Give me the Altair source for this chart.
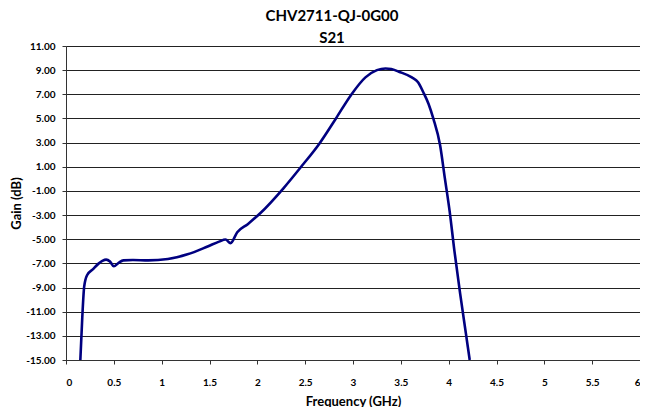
import altair as alt
import pandas as pd

freq = [0.15, 0.17, 0.19, 0.22, 0.28, 0.34, 0.38, 0.42, 0.46, 0.50, 0.55, 0.60,
        0.70, 0.86, 1.065, 1.27, 1.48, 1.60, 1.667, 1.72, 1.79, 1.90, 2.03,
        2.275, 2.46, 2.65, 2.82, 2.98, 3.13, 3.25, 3.34, 3.40, 3.48, 3.615,
        3.68, 3.735, 3.79, 3.84, 3.91, 3.96, 4.01, 4.06, 4.12, 4.18, 4.22]
gain = [-15.0, -11.5, -8.93, -7.98, -7.5, -7.02, -6.8, -6.69, -6.85, -7.24, -6.95, -6.75,
        -6.72, -6.75, -6.64, -6.25, -5.6, -5.2, -5.02, -5.32, -4.42, -3.75, -2.85,
        -0.76, 1.02, 2.93, 4.98, 6.95, 8.4, 9.0, 9.14, 9.1, 8.87, 8.4,
        8.0, 7.17, 6.2, 4.98, 2.8, 0.06, -2.67, -5.96, -9.5, -12.8, -15.0]

x_ticks = [0, 0.5, 1, 1.5, 2, 2.5, 3, 3.5, 4, 4.5, 5, 5.5, 6]
y_ticks = [-15, -13, -11, -9, -7, -5, -3, -1, 1, 3, 5, 7, 9, 11]

df = pd.DataFrame({"freq": freq, "gain": gain})

FONT = "Lato"

chart = alt.Chart(df).mark_line(
    color="#000080", strokeWidth=2.6, interpolate="monotone", clip=True
).encode(
    x=alt.X("freq:Q", scale=alt.Scale(domain=[0, 6], nice=False),
            axis=alt.Axis(values=x_ticks, title="Frequency (GHz)", grid=False,
                          labelExpr="'' + datum.value",
                          labelFont=FONT, labelFontSize=10, labelFontWeight="bold",
                          labelColor="#000", labelPadding=13, tickSize=4,
                          tickColor="#333", domainColor="#333",
                          titleFont=FONT, titleFontSize=13, titleFontWeight="bold",
                          titleColor="#000", titleBaseline="alphabetic", titleY=45)),
    y=alt.Y("gain:Q", scale=alt.Scale(domain=[-15, 11], nice=False, zero=False),
            axis=alt.Axis(values=y_ticks, title="Gain (dB)", grid=True,
                          gridColor="#222", gridWidth=1,
                          labelExpr="(datum.value < 0 ? '-' : '') + format(abs(datum.value), '.2f')",
                          labelFont=FONT, labelFontSize=10, labelFontWeight="bold",
                          labelColor="#000", labelPadding=7, tickSize=4,
                          tickColor="#333", domainColor="#333",
                          titleFont=FONT, titleFontSize=13, titleFontWeight="bold",
                          titleColor="#000", titleBaseline="alphabetic",
                          titleX=-46, titleY=157)),
).properties(
    width=574,
    height=314,
    title=alt.TitleParams(
        text=["CHV2711-QJ-0G00", "S21"],
        font=FONT, fontSize=15, fontWeight="bold", color="#000",
        anchor="middle", lineHeight=22, dx=-21, dy=5, offset=0,
    ),
    autosize=alt.AutoSizeParams(type="none"),
    padding={"left": 58, "top": 38, "right": 0, "bottom": 47},
).configure_view(
    stroke="#999", strokeWidth=1
)

chart.save("out.html", embed_options={"renderer": "svg", "actions": False})
